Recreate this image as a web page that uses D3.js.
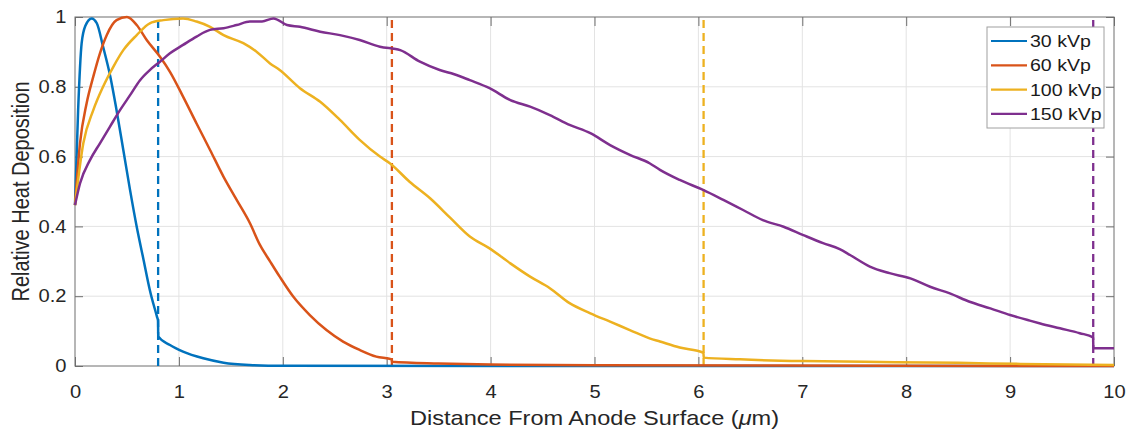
<!DOCTYPE html>
<html>
<head>
<meta charset="utf-8">
<script src="https://cdn.jsdelivr.net/npm/d3@7"></script>
<style>
  html, body { margin: 0; padding: 0; background: #fff; }
  svg { display: block; font-family: "Liberation Sans", Arial, Helvetica, sans-serif; }
</style>
</head>
<body>
<svg id="chart" width="1134" height="434"></svg>
<script>
// ---------------- data ----------------
const seriesNames = ["30 kVp", "60 kVp", "100 kVp", "150 kVp"];
const seriesColors = ["#0072BD", "#D95319", "#EDB120", "#7E2F8E"];
const cutoffs = [0.80, 3.05, 6.05, 9.80];

const x30 = [0, 0.03, 0.064, 0.1, 0.16, 0.21, 0.27, 0.34, 0.40, 0.465, 0.53, 0.594, 0.66, 0.72, 0.79, 0.799, 0.801, 0.914, 1.04, 1.235, 1.43, 1.68, 2.0, 10];
const y30 = [0.461, 0.733, 0.925, 0.975, 0.996, 0.982, 0.915, 0.829, 0.733, 0.619, 0.504, 0.399, 0.304, 0.218, 0.140, 0.13, 0.085, 0.06, 0.041, 0.022, 0.0095, 0.003, 0.0005, 0];

const x60 = [0, 0.048, 0.112, 0.176, 0.24, 0.305, 0.40, 0.50, 0.594, 0.69, 0.818, 0.914, 1.04, 1.17, 1.30, 1.43, 1.556, 1.684, 1.78, 1.877, 1.97, 2.10, 2.26, 2.42, 2.58, 2.74, 2.90, 3.049, 3.051, 3.5, 4.0, 5.0, 10];
const y60 = [0.461, 0.638, 0.753, 0.829, 0.896, 0.948, 0.991, 1.0, 0.977, 0.934, 0.886, 0.843, 0.772, 0.695, 0.619, 0.542, 0.476, 0.409, 0.347, 0.300, 0.256, 0.199, 0.146, 0.103, 0.070, 0.046, 0.027, 0.019, 0.012, 0.007, 0.004, 0.002, 0.0];

const x100 = [0, 0.08, 0.176, 0.27, 0.37, 0.465, 0.594, 0.72, 0.85, 1.04, 1.17, 1.30, 1.43, 1.62, 1.75, 1.877, 1.97, 2.165, 2.36, 2.55, 2.74, 2.935, 3.03, 3.22, 3.42, 3.61, 3.80, 3.99, 4.19, 4.38, 4.57, 4.76, 4.96, 5.15, 5.34, 5.53, 5.63, 5.82, 6.049, 6.051, 6.4, 7.0, 7.6, 8.5, 9.1, 10];
const y100 = [0.461, 0.638, 0.733, 0.80, 0.858, 0.905, 0.948, 0.982, 0.991, 0.996, 0.987, 0.972, 0.948, 0.925, 0.90, 0.867, 0.848, 0.796, 0.757, 0.705, 0.648, 0.60, 0.581, 0.528, 0.48, 0.425, 0.371, 0.337, 0.294, 0.256, 0.223, 0.18, 0.151, 0.127, 0.103, 0.079, 0.070, 0.053, 0.038, 0.024, 0.019, 0.014, 0.012, 0.009, 0.006, 0.003];

const x150 = [0, 0.048, 0.144, 0.24, 0.337, 0.433, 0.53, 0.626, 0.72, 0.818, 0.914, 1.04, 1.17, 1.30, 1.43, 1.556, 1.684, 1.80, 1.91, 2.04, 2.165, 2.36, 2.55, 2.74, 2.935, 3.13, 3.32, 3.51, 3.65, 3.80, 3.99, 4.19, 4.38, 4.57, 4.76, 4.96, 5.15, 5.34, 5.53, 5.63, 5.82, 6.05, 6.24, 6.43, 6.62, 6.82, 7.01, 7.20, 7.36, 7.46, 7.65, 7.84, 8.04, 8.23, 8.42, 8.61, 8.81, 9.0, 9.19, 9.29, 9.48, 9.67, 9.799, 9.801, 10];
const y150 = [0.461, 0.523, 0.59, 0.638, 0.686, 0.733, 0.776, 0.819, 0.848, 0.872, 0.896, 0.92, 0.944, 0.963, 0.968, 0.977, 0.987, 0.987, 0.996, 0.977, 0.972, 0.958, 0.948, 0.934, 0.915, 0.905, 0.872, 0.848, 0.836, 0.819, 0.796, 0.762, 0.743, 0.719, 0.691, 0.667, 0.633, 0.605, 0.581, 0.562, 0.533, 0.504, 0.476, 0.447, 0.418, 0.399, 0.375, 0.352, 0.335, 0.318, 0.285, 0.266, 0.251, 0.227, 0.208, 0.184, 0.165, 0.146, 0.13, 0.122, 0.108, 0.094, 0.082, 0.051, 0.051];

const xTicks = [0, 1, 2, 3, 4, 5, 6, 7, 8, 9, 10];
const yTicks = [0, 0.2, 0.4, 0.6, 0.8, 1];
const xLabelParts = ["Distance From Anode Surface (", "\u03bc", "m)"];
const yLabel = "Relative Heat Deposition";

// ---------------- layout ----------------
const W = 1134, H = 434;
const m = { left: 75, top: 17, right: 20, bottom: 68 };
const iw = W - m.left - m.right, ih = H - m.top - m.bottom;
const SX = 1.15;              // horizontal text stretch seen in reference
const textColor = "#262626";
const axisColor = "#6e6e6e";

const svg = d3.select("#chart");
const g = svg.append("g").attr("transform", `translate(${m.left},${m.top})`);

const x = d3.scaleLinear().domain([0, 10]).range([0, iw]);
const y = d3.scaleLinear().domain([0, 1]).range([ih, 0]);

// grid
g.append("g").selectAll("line").data(xTicks.slice(1, -1)).join("line")
  .attr("x1", d => x(d)).attr("x2", d => x(d)).attr("y1", 0).attr("y2", ih)
  .attr("stroke", "#e3e3e3").attr("stroke-width", 1);
g.append("g").selectAll("line").data(yTicks.slice(1, -1)).join("line")
  .attr("y1", d => y(d)).attr("y2", d => y(d)).attr("x1", 0).attr("x2", iw)
  .attr("stroke", "#e3e3e3").attr("stroke-width", 1);

// axes (ticks inward)
function styleAxis(sel) {
  sel.select(".domain").remove();
  sel.selectAll(".tick line").attr("stroke", axisColor);
  sel.selectAll(".tick text").attr("fill", textColor)
    .style("font-size", "17.5px");
}
const xAxis = g.append("g").attr("transform", `translate(0,${ih})`)
  .call(d3.axisBottom(x).tickValues(xTicks).tickFormat(d3.format("d")).tickSizeInner(-9).tickSizeOuter(0).tickPadding(20));
styleAxis(xAxis);
xAxis.selectAll(".tick text").attr("transform", `scale(${SX},1)`);
const xAxisTop = g.append("g")
  .call(d3.axisTop(x).tickValues(xTicks).tickFormat("").tickSizeInner(-9).tickSizeOuter(0));
styleAxis(xAxisTop);

const yAxis = g.append("g")
  .call(d3.axisLeft(y).tickValues(yTicks).tickFormat(d => d === 0 || d === 1 ? d3.format("d")(d) : d3.format(".1f")(d)).tickSizeInner(-8).tickSizeOuter(0).tickPadding(0));
styleAxis(yAxis);
yAxis.selectAll(".tick text").attr("x", -8.5 / SX).attr("transform", `scale(${SX},1)`);
const yAxisRight = g.append("g").attr("transform", `translate(${iw},0)`)
  .call(d3.axisRight(y).tickValues(yTicks).tickFormat("").tickSizeInner(-8).tickSizeOuter(0));
styleAxis(yAxisRight);

// box
g.append("rect").attr("x", 0).attr("y", 0).attr("width", iw).attr("height", ih)
  .attr("fill", "none").attr("stroke", axisColor).attr("stroke-width", 1);

// clip
svg.append("defs").append("clipPath").attr("id", "clip")
  .append("rect").attr("x", -2).attr("y", -2).attr("width", iw + 4).attr("height", ih + 4);

const plot = g.append("g").attr("clip-path", "url(#clip)");
const line = d3.line().x(d => x(d[0])).y(d => y(d[1])).curve(d3.curveMonotoneX);
const allX = [x30, x60, x100, x150];
const allY = [y30, y60, y100, y150];

// cutoff dashed lines
plot.selectAll("line.cut").data(cutoffs).join("line").attr("class", "cut")
  .attr("x1", d => x(d)).attr("x2", d => x(d)).attr("y1", y(0)).attr("y2", y(1))
  .attr("stroke", (d, i) => seriesColors[i]).attr("stroke-width", 2.3)
  .attr("stroke-dasharray", "8,5");

// curves
allX.forEach((xs, i) => {
  const pts = xs.map((v, k) => [v, allY[i][k]]);
  plot.append("path").datum(pts).attr("d", line)
    .attr("fill", "none").attr("stroke", seriesColors[i])
    .attr("stroke-width", 2.5).attr("stroke-linejoin", "round");
});

// labels
const xl = svg.append("text")
  .attr("transform", `translate(${m.left + iw / 2},${H - 9}) scale(${SX},1)`)
  .attr("text-anchor", "middle").attr("fill", textColor)
  .style("font-size", "20.5px");
xl.append("tspan").text(xLabelParts[0]);
xl.append("tspan").style("font-style", "italic").text(xLabelParts[1]);
xl.append("tspan").text(xLabelParts[2]);

svg.append("text")
  .attr("transform", `translate(29,${m.top + ih / 2}) rotate(-90) scale(1,${SX})`)
  .attr("text-anchor", "middle").attr("fill", textColor)
  .style("font-size", "20px").text(yLabel);

// legend
const lg = svg.append("g").attr("transform", "translate(987,27)");
lg.append("rect").attr("width", 117).attr("height", 101)
  .attr("fill", "#fff").attr("stroke", "#a0a0a0").attr("stroke-width", 1);
seriesNames.forEach((name, i) => {
  const cy = 14 + i * 24.3;
  lg.append("line").attr("x1", 4).attr("x2", 40).attr("y1", cy).attr("y2", cy)
    .attr("stroke", seriesColors[i]).attr("stroke-width", 2.2);
  lg.append("text").attr("transform", `translate(43,${cy + 6}) scale(${SX},1)`)
    .attr("fill", "#1a1a1a").style("font-size", "17px").text(name);
});
</script>
</body>
</html>
